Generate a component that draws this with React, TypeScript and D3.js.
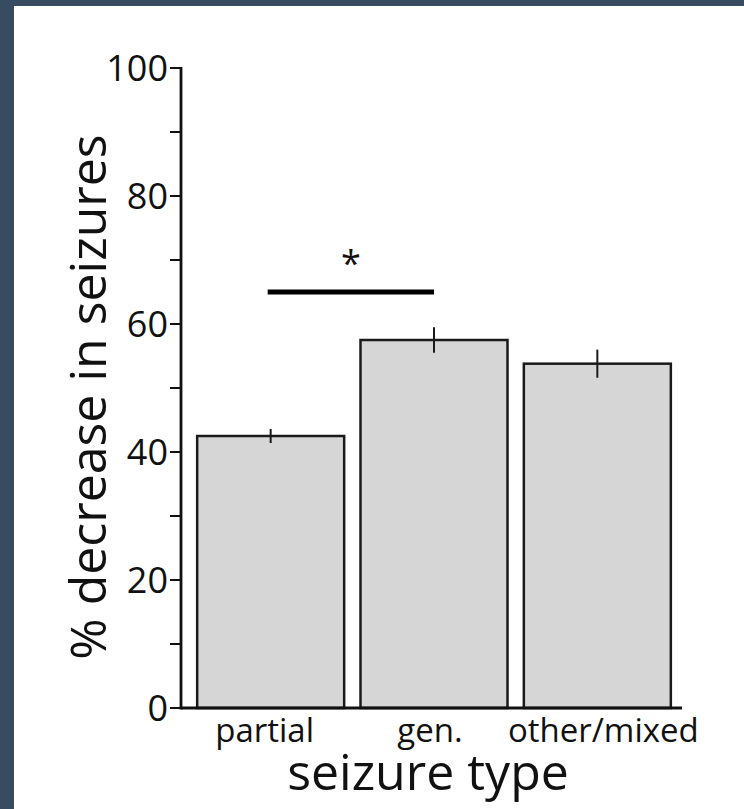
import * as React from 'react';
import * as d3 from 'd3';

// values
const seizureTypes = ['partial', 'gen.', 'other/mixed'];
const meanDecrease = [42.5, 57.5, 53.8];
const errDecrease = [1.1, 2.0, 2.2];
const majorTicks = [0, 20, 40, 60, 80, 100];
const minorTicks = [10, 30, 50, 70, 90];
const sigPair = ['partial', 'gen.'];
const sigLevel = 65;

const W = 744;
const H = 809;
const FONT = '"Open Sans", sans-serif';
// small horizontal nudges of the category labels, as in the figure
const labelNudge = [-6, -4, 6];

export default function App() {
    const ref = React.useRef<SVGSVGElement>(null);

    React.useEffect(() => {
        document.body.style.margin = '0';
        const svg = d3.select(ref.current);
        svg.selectAll('*').remove();

        svg.append('rect').attr('width', W).attr('height', H).attr('fill', '#374c61');
        svg.append('rect').attr('x', 14).attr('y', 6).attr('width', W - 14).attr('height', H - 6).attr('fill', '#fff');

        let xScale = d3.scaleBand<string>()
            .domain(seizureTypes)
            .range([189, 679])
            .paddingInner(0.1)
            .paddingOuter(0.05);

        let yScale = d3.scaleLinear()
            .domain([0, 100])
            .range([708, 68]);

        let axisX = 181;

        let g = svg.append('g');

        // bars
        g.selectAll('.bar')
            .data(seizureTypes)
            .enter()
            .append('rect')
            .attr('class', 'bar')
            .attr('x', (d) => xScale(d)!)
            .attr('y', (d, i) => yScale(meanDecrease[i]))
            .attr('width', xScale.bandwidth())
            .attr('height', (d, i) => yScale(0) - yScale(meanDecrease[i]))
            .attr('fill', '#d6d6d6')
            .attr('stroke', '#1a1a1a')
            .attr('stroke-width', 2.5);

        // error bars
        g.selectAll('.err')
            .data(seizureTypes)
            .enter()
            .append('line')
            .attr('x1', (d) => xScale(d)! + xScale.bandwidth() / 2)
            .attr('x2', (d) => xScale(d)! + xScale.bandwidth() / 2)
            .attr('y1', (d, i) => yScale(meanDecrease[i] + errDecrease[i]))
            .attr('y2', (d, i) => yScale(meanDecrease[i] - errDecrease[i]))
            .attr('stroke', '#1a1a1a')
            .attr('stroke-width', 2);

        // y axis
        g.append('line')
            .attr('x1', axisX).attr('x2', axisX)
            .attr('y1', yScale(100) - 1).attr('y2', yScale(0) + 1.5)
            .attr('stroke', '#111').attr('stroke-width', 2.8);

        g.selectAll('.tick')
            .data(majorTicks.concat(minorTicks))
            .enter()
            .append('line')
            .attr('x1', axisX - 11).attr('x2', axisX)
            .attr('y1', (d) => yScale(d)).attr('y2', (d) => yScale(d))
            .attr('stroke', '#111').attr('stroke-width', 2);

        g.selectAll('.tickLabel')
            .data(majorTicks)
            .enter()
            .append('text')
            .attr('x', axisX - 13)
            .attr('y', (d) => yScale(d))
            .attr('dy', '0.36em')
            .attr('text-anchor', 'end')
            .style('font-family', FONT)
            .style('font-size', '36px')
            .attr('fill', '#111')
            .text((d) => d);

        // x axis
        g.append('line')
            .attr('x1', axisX).attr('x2', 682)
            .attr('y1', yScale(0)).attr('y2', yScale(0))
            .attr('stroke', '#111').attr('stroke-width', 3);

        g.selectAll('.catLabel')
            .data(seizureTypes)
            .enter()
            .append('text')
            .attr('x', (d, i) => xScale(d)! + xScale.bandwidth() / 2 + labelNudge[i])
            .attr('y', 742)
            .attr('text-anchor', 'middle')
            .style('font-family', FONT)
            .style('font-size', '33px')
            .attr('fill', '#111')
            .text((d) => d);

        g.append('text')
            .attr('x', 428)
            .attr('y', 790)
            .attr('text-anchor', 'middle')
            .style('font-family', FONT)
            .style('font-size', '50px')
            .attr('fill', '#111')
            .text('seizure type');

        g.append('text')
            .attr('transform', 'translate(106,397) rotate(-90)')
            .attr('text-anchor', 'middle')
            .style('font-family', FONT)
            .style('font-size', '50px')
            .attr('fill', '#111')
            .text('% decrease in seizures');

        // significance bar
        let sx1 = xScale(sigPair[0])! + xScale.bandwidth() / 2 - 3;
        let sx2 = xScale(sigPair[1])! + xScale.bandwidth() / 2;
        g.append('line')
            .attr('x1', sx1).attr('x2', sx2)
            .attr('y1', yScale(sigLevel)).attr('y2', yScale(sigLevel))
            .attr('stroke', '#000').attr('stroke-width', 5);

        g.append('text')
            .attr('x', (sx1 + sx2) / 2)
            .attr('y', 276)
            .attr('text-anchor', 'middle')
            .style('font-family', FONT)
            .style('font-size', '36px')
            .attr('fill', '#111')
            .text('*');
    }, []);

    return (
        <svg ref={ref} width={W} height={H} style={{ display: 'block' }}></svg>
    );
}
